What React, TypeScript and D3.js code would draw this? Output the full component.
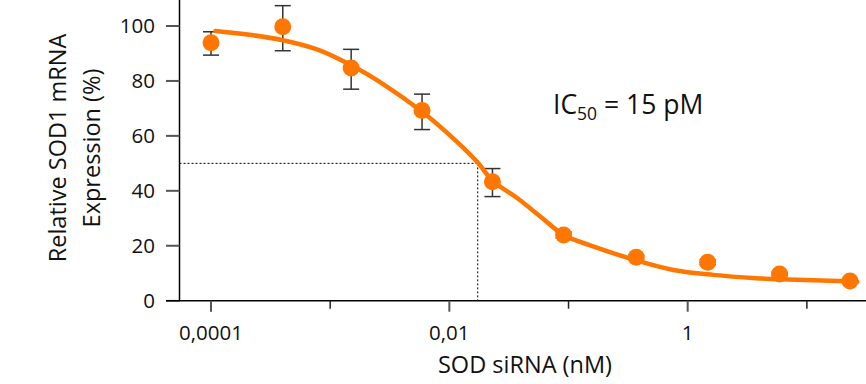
import React from "react";
import * as d3 from "d3";

const concentrations = [0.0001, 0.0004, 0.0015, 0.0059, 0.023, 0.091, 0.37, 1.47, 5.9, 23];
const meanValues = [93.9, 99.7, 84.7, 69.2, 43.3, 23.9, 15.8, 14.0, 9.7, 7.2];
const errUpper = [97.9, 107.4, 91.5, 75.2, 48.1, 25.0, 16.6, 14.9, 10.3, 7.8];
const errLower = [89.4, 91.0, 77.0, 62.3, 37.9, 22.8, 15.0, 13.1, 9.1, 6.6];

const fitConc = [1.09e-4, 2.2e-4, 3.93e-4, 7.96e-4, 1.53e-3, 2.86e-3, 5.91e-3, 9.7e-3, 1.73e-2, 2.31e-2, 3.73e-2, 5.83e-2, 9.14e-2, 0.163, 0.363, 0.758, 1.64, 3.77, 5.9, 15.4, 26.5];
const fitValue = [98.2, 96.7, 94.9, 91.3, 85.5, 78.5, 68.8, 60.9, 50.3, 43.6, 37.3, 30.6, 23.9, 19.7, 14.8, 11.2, 9.4, 8.2, 7.8, 7.3, 6.9];

const ic50Conc = 0.0173;
const halfValue = 50;

const yTicks = [0, 20, 40, 60, 80, 100];
const xMajorTicks = [0.0001, 0.01, 1];
const xMajorLabels = ["0,0001", "0,01", "1"];
const xMinorTicks = [0.001, 0.1, 10];

const ORANGE = "#ff7600";
const FONT = "'Open Sans', sans-serif";
const TEXT = "#111";

export default function App() {
  const x = d3.scaleLog().domain([1e-4, 1]).range([211, 687.7]);
  const y = d3.scaleLinear().domain([0, 100]).range([300.7, 26]);
  const axisX = 179.5;
  const axisY = y(0);

  const line = d3
    .line<number>()
    .x((_, i) => x(fitConc[i]))
    .y((v) => y(v))
    .curve(d3.curveCatmullRom.alpha(0.5));

  return (
    <svg
      width={866}
      height={384}
      style={{ position: "absolute", left: 0, top: 0, background: "#fff" }}
      fontFamily={FONT}
    >
      {/* y axis */}
      <line x1={axisX} x2={axisX} y1={0} y2={axisY + 0.5} stroke="#000" strokeWidth={1.5} />
      {yTicks.map((t) => (
        <g key={t}>
          <line x1={166} x2={axisX} y1={y(t)} y2={y(t)} stroke={t === 0 ? "#000" : "#555"} strokeWidth={t === 0 ? 1.5 : 2} />
          <text x={155} y={y(t)} dy="0.36em" textAnchor="end" fontSize={20.5} fill={TEXT}>
            {t}
          </text>
        </g>
      ))}
      {/* x axis */}
      <line x1={166} x2={866} y1={axisY} y2={axisY} stroke="#000" strokeWidth={1.5} />
      {xMajorTicks.map((t, i) => (
        <g key={t}>
          <line x1={x(t)} x2={x(t)} y1={axisY} y2={axisY + 11} stroke="#555" strokeWidth={2} />
          <text x={x(t)} y={340} textAnchor="middle" fontSize={20.5} fill={TEXT}>
            {xMajorLabels[i]}
          </text>
        </g>
      ))}
      {xMinorTicks.map((t) => (
        <line key={t} x1={x(t)} x2={x(t)} y1={axisY} y2={axisY + 8} stroke="#222" strokeWidth={1.5} />
      ))}
      <text x={525} y={373} textAnchor="middle" fontSize={23.5} fill={TEXT}>
        SOD siRNA (nM)
      </text>
      <text transform="translate(58,148) rotate(-90)" textAnchor="middle" dy="0.35em" fontSize={23.5} fill={TEXT}>
        Relative SOD1 mRNA
      </text>
      <text transform="translate(92,148) rotate(-90)" textAnchor="middle" dy="0.35em" fontSize={23.5} fill={TEXT}>
        Expression (%)
      </text>

      {/* IC50 guides */}
      <line x1={axisX} x2={x(ic50Conc)} y1={y(halfValue)} y2={y(halfValue)} stroke="#000" strokeWidth={1} strokeDasharray="2,2" />
      <line x1={x(ic50Conc)} x2={x(ic50Conc)} y1={y(halfValue)} y2={axisY} stroke="#000" strokeWidth={1} strokeDasharray="2,2" />

      {/* error bars */}
      {concentrations.map((c, i) => (
        <g key={"e" + i} stroke="#333" strokeWidth={1.5}>
          <line x1={x(c)} x2={x(c)} y1={y(errUpper[i])} y2={y(errLower[i])} />
          <line x1={x(c) - 8} x2={x(c) + 8} y1={y(errUpper[i])} y2={y(errUpper[i])} />
          <line x1={x(c) - 8} x2={x(c) + 8} y1={y(errLower[i])} y2={y(errLower[i])} />
        </g>
      ))}

      {/* fit curve */}
      <path d={line(fitValue) || ""} fill="none" stroke={ORANGE} strokeWidth={4.5} strokeLinecap="round" />

      {/* points */}
      {concentrations.map((c, i) => (
        <circle key={"p" + i} cx={x(c)} cy={y(meanValues[i])} r={8.5} fill={ORANGE} />
      ))}

      <text x={553} y={114} fontSize={26.5} fill={TEXT}>
        IC
        <tspan fontSize={17.5} dy={6}>50</tspan>
        <tspan dy={-6}> = 15 pM</tspan>
      </text>
    </svg>
  );
}
